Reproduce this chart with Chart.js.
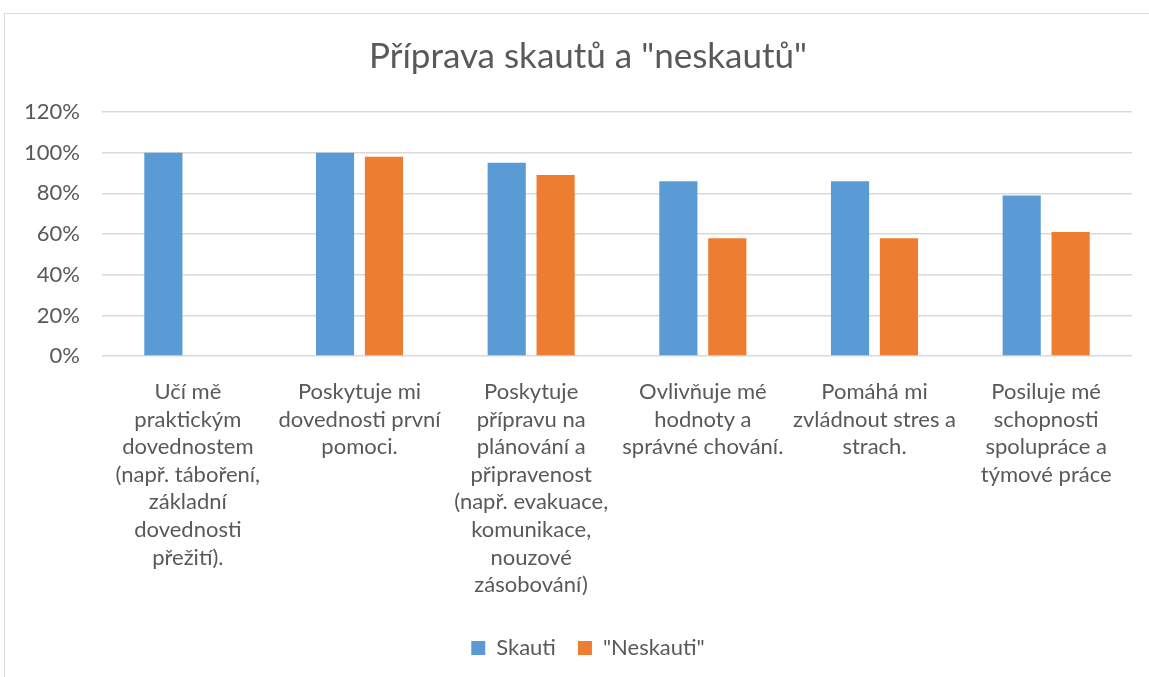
<!DOCTYPE html>
<html>
<head>
<meta charset="utf-8">
<script src="https://cdn.jsdelivr.net/npm/chart.js@4"></script>
<style>
  html, body { margin: 0; padding: 0; background: #fff; }
  #wrap { position: relative; width: 1149px; height: 677px; overflow: hidden; }
  #frame { position: absolute; left: 4px; top: 13px; width: 1200px; height: 700px; border: 1px solid #d9d9d9; pointer-events: none; }
</style>
</head>
<body>
<div id="wrap">
  <canvas id="chart" width="1149" height="677"></canvas>
  <div id="frame"></div>
</div>
<script>
// category labels, already wrapped like in the original
const categories = [
    ['Učí mě', 'praktickým', 'dovednostem', '(např. táboření,', 'základní', 'dovednosti', 'přežití).'],
    ['Poskytuje mi', 'dovednosti první', 'pomoci.'],
    ['Poskytuje', 'přípravu na', 'plánování a', 'připravenost', '(např. evakuace,', 'komunikace,', 'nouzové', 'zásobování)'],
    ['Ovlivňuje mé', 'hodnoty a', 'správné chování.'],
    ['Pomáhá mi', 'zvládnout stres a', 'strach.'],
    ['Posiluje mé', 'schopnosti', 'spolupráce a', 'týmové práce']
];
const skauti = [100, 100, 95, 86, 86, 79];
const neskauti = [0, 98, 89, 58, 58, 61];
const yTicks = [0, 20, 40, 60, 80, 100, 120];

const textColor = '#595959';
const fontFamily = 'Lato, "Open Sans", sans-serif';

// title and legend sit centred on the whole frame, not on the plot area
const centerShift = {
    id: 'centerShift',
    afterLayout(chart) {
        [chart.titleBlock, chart.legend].forEach(box => {
            if (box) {
                box.left += 9;
                box.right += 9;
            }
        });
    }
};

const ctx = document.getElementById('chart').getContext('2d');
new Chart(ctx, {
    type: 'bar',
    data: {
        labels: categories,
        datasets: [
            {
                label: 'Skauti',
                data: skauti,
                backgroundColor: '#5B9BD5',
                categoryPercentage: 0.57,
                barPercentage: 0.78
            },
            {
                label: '"Neskauti"',
                data: neskauti,
                backgroundColor: '#ED7D31',
                categoryPercentage: 0.57,
                barPercentage: 0.78
            }
        ]
    },
    options: {
        responsive: false,
        animation: false,
        layout: {
            padding: { left: 26, right: 17, top: 0, bottom: 8 }
        },
        scales: {
            y: {
                min: yTicks[0],
                max: yTicks[yTicks.length - 1],
                afterBuildTicks: scale => {
                    scale.ticks = yTicks.map(v => ({ value: v }));
                },
                afterFit: scale => {
                    scale.width = 76;
                },
                border: { display: false },
                grid: { color: '#d9d9d9', lineWidth: 1.5, drawTicks: false },
                ticks: {
                    padding: 22,
                    color: textColor,
                    font: { family: fontFamily, size: 22 },
                    callback: v => v + '%'
                }
            },
            x: {
                afterFit: scale => {
                    // labels may run a little into the legend gap, like in the original
                    scale.height -= 6;
                },
                border: { display: false },
                grid: { display: false, drawTicks: false },
                ticks: {
                    autoSkip: false,
                    maxRotation: 0,
                    padding: 22,
                    color: textColor,
                    font: { family: fontFamily, size: 22, lineHeight: 1.255 }
                }
            }
        },
        plugins: {
            title: {
                display: true,
                text: 'Příprava skautů a "neskautů"',
                color: textColor,
                font: { family: fontFamily, size: 35, weight: 'normal', lineHeight: 1.2 },
                padding: { top: 36, bottom: 34 }
            },
            legend: {
                position: 'bottom',
                labels: {
                    boxWidth: 14,
                    boxHeight: 14,
                    padding: 22,
                    color: textColor,
                    font: { family: fontFamily, size: 22 }
                }
            },
            tooltip: { enabled: false }
        }
    },
    plugins: [centerShift]
});
</script>
</body>
</html>
